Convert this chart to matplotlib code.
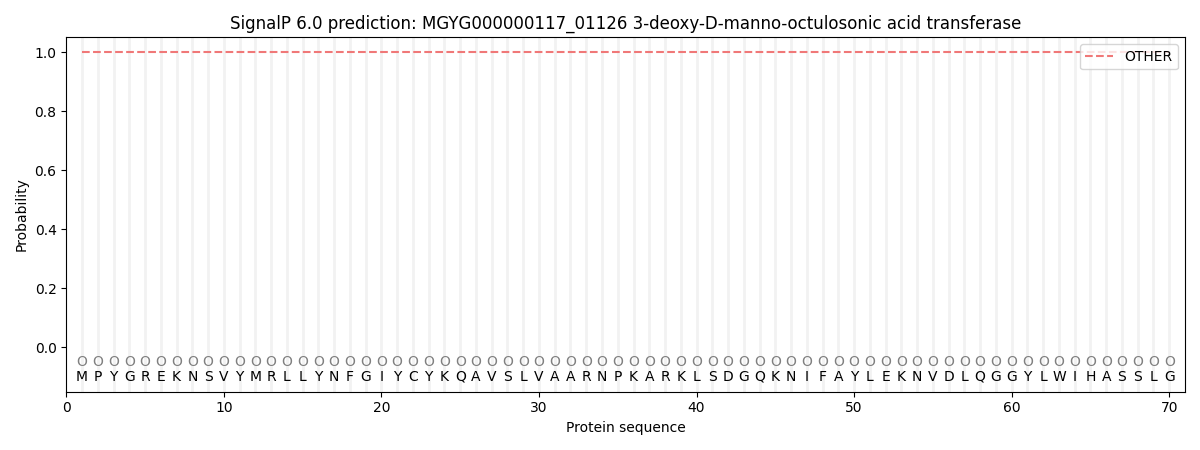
import numpy as np
import matplotlib
matplotlib.use('Agg')
import matplotlib.pyplot as plt

seq = 'MPYGREKNSVYMRLLYNFGIYCYKQAVSLVAARNPKARKLSDGQKNIFAYLEKNVDLQGGYLWIHASSLG'
labels = ['O'] * len(seq)
pos = np.arange(1, len(seq) + 1)
p_other = [1.0] * len(seq)

fig, ax = plt.subplots(figsize=(12, 4.5), dpi=100)
for x in pos:
    ax.axvline(x, color='#f2f2f2', lw=2, zorder=0)
ax.plot(pos, p_other, ls='--', color='#f07878', lw=1.5, label='OTHER')
for x, aa, lab in zip(pos, seq, labels):
    ax.text(x, -0.05, lab, ha='center', va='center', fontsize=10, color='#808080')
    ax.text(x, -0.1, aa, ha='center', va='center', fontsize=10)
ax.set_xlim(0, 71)
ax.set_ylim(-0.15, 1.05)
ax.set_xlabel('Protein sequence')
ax.set_ylabel('Probability')
ax.set_title('SignalP 6.0 prediction: MGYG000000117_01126 3-deoxy-D-manno-octulosonic acid transferase')
ax.legend(loc='upper right')
fig.tight_layout()
fig.savefig('out.png')
